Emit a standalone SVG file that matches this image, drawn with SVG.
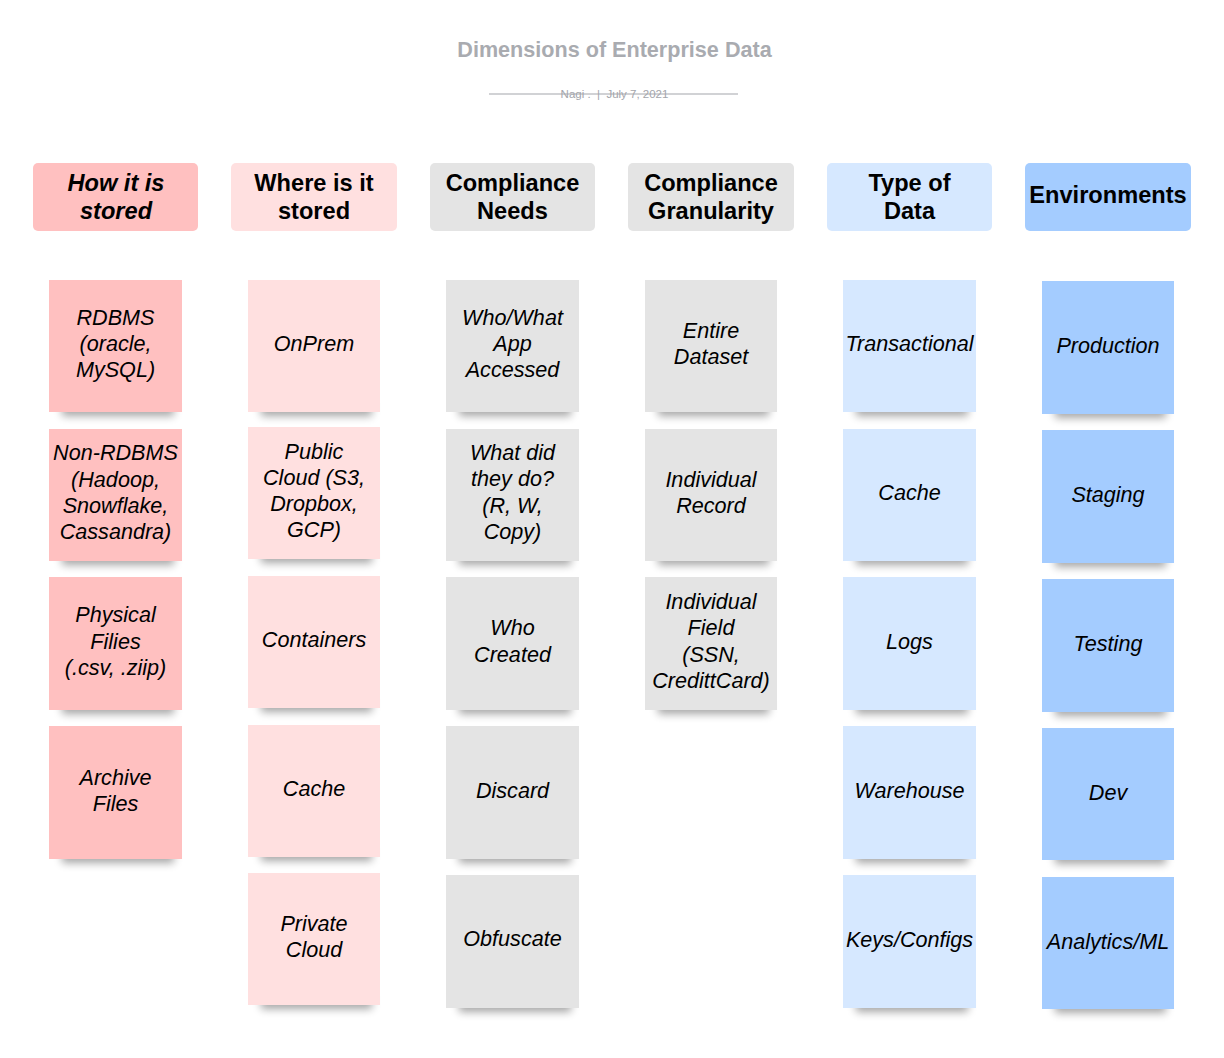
<svg xmlns="http://www.w3.org/2000/svg" width="1224" height="1058" viewBox="0 0 1224 1058">
<defs>
<filter id="sh" x="-20%" y="-100%" width="140%" height="300%"><feGaussianBlur stdDeviation="4"/></filter>
<style>
.title{font-family:"Liberation Sans",Arial,sans-serif;font-weight:bold;font-size:21.6px;fill:#a9abb0;text-anchor:middle}
.sub{font-family:"Liberation Sans",Arial,sans-serif;font-size:11.5px;fill:#a3a5ab;text-anchor:middle;white-space:pre}
.hd{font-family:"Liberation Sans",Arial,sans-serif;font-weight:bold;font-size:23.6px;fill:#000;text-anchor:middle}
.it{font-style:italic}
.nt{font-family:"Liberation Sans",Arial,sans-serif;font-style:italic;font-size:21.6px;fill:#000;text-anchor:middle}
.shd{fill:#000;opacity:0.35;filter:url(#sh)}
.c1{fill:#ffc0c0}.c2{fill:#ffe0e0}.c3{fill:#e4e4e4}.c5{fill:#d6e8ff}.c6{fill:#a4ccff}
</style>
</defs>
<rect width="1224" height="1058" fill="#fff"/>
<g id="title">
<text class="title" x="614.5" y="57">Dimensions of Enterprise Data</text>
<line x1="489" y1="94" x2="738" y2="94" stroke="#a3a5ab" stroke-width="1"/>
<text class="sub" x="614.5" y="98" xml:space="preserve">Nagi .  |  July 7, 2021</text>
</g>
<g id="headers">
<g id="h1"><rect class="c1" x="33" y="163" width="165" height="68" rx="5"/><text class="hd it" x="116" y="191">How it is</text><text class="hd it" x="116" y="219">stored</text></g>
<g id="h2"><rect class="c2" x="231" y="163" width="166" height="68" rx="5"/><text class="hd" x="314" y="191">Where is it</text><text class="hd" x="314" y="219">stored</text></g>
<g id="h3"><rect class="c3" x="430" y="163" width="165" height="68" rx="5"/><text class="hd" x="512.5" y="191">Compliance</text><text class="hd" x="512.5" y="219">Needs</text></g>
<g id="h4"><rect class="c3" x="628" y="163" width="166" height="68" rx="5"/><text class="hd" x="711" y="191">Compliance</text><text class="hd" x="711" y="219">Granularity</text></g>
<g id="h5"><rect class="c5" x="827" y="163" width="165" height="68" rx="5"/><text class="hd" x="909.5" y="191">Type of</text><text class="hd" x="909.5" y="219">Data</text></g>
<g id="h6"><rect class="c6" x="1025" y="163" width="166" height="68" rx="5"/><text class="hd" x="1108" y="203">Environments</text></g>
</g>
<g id="connectors"/>
<!-- Column 1 -->
<g id="n1a"><rect class="shd" x="62" y="402" width="112" height="14"/><rect class="c1" x="49" y="280" width="133" height="132"/><text class="nt" x="115.5" y="325">RDBMS</text><text class="nt" x="115.5" y="351">(oracle,</text><text class="nt" x="115.5" y="377">MySQL)</text></g>
<g id="n1b"><rect class="shd" x="62" y="551" width="112" height="14"/><rect class="c1" x="49" y="429" width="133" height="132"/><text class="nt" x="115.5" y="460">Non-RDBMS</text><text class="nt" x="115.5" y="487">(Hadoop,</text><text class="nt" x="115.5" y="513">Snowflake,</text><text class="nt" x="115.5" y="539">Cassandra)</text></g>
<g id="n1c"><rect class="shd" x="62" y="700" width="112" height="14"/><rect class="c1" x="49" y="577" width="133" height="133"/><text class="nt" x="115.5" y="622">Physical</text><text class="nt" x="115.5" y="649">Filies</text><text class="nt" x="115.5" y="675">(.csv, .ziip)</text></g>
<g id="n1d"><rect class="shd" x="62" y="849" width="112" height="14"/><rect class="c1" x="49" y="726" width="133" height="133"/><text class="nt" x="115.5" y="785">Archive</text><text class="nt" x="115.5" y="811">Files</text></g>
<!-- Column 2 -->
<g id="n2a"><rect class="shd" x="261" y="402" width="111" height="14"/><rect class="c2" x="248" y="280" width="132" height="132"/><text class="nt" x="314" y="351">OnPrem</text></g>
<g id="n2b"><rect class="shd" x="261" y="549" width="111" height="14"/><rect class="c2" x="248" y="427" width="132" height="132"/><text class="nt" x="314" y="459">Public</text><text class="nt" x="314" y="485">Cloud (S3,</text><text class="nt" x="314" y="511">Dropbox,</text><text class="nt" x="314" y="537">GCP)</text></g>
<g id="n2c"><rect class="shd" x="261" y="698" width="111" height="14"/><rect class="c2" x="248" y="576" width="132" height="132"/><text class="nt" x="314" y="647">Containers</text></g>
<g id="n2d"><rect class="shd" x="261" y="847" width="111" height="14"/><rect class="c2" x="248" y="725" width="132" height="132"/><text class="nt" x="314" y="796">Cache</text></g>
<g id="n2e"><rect class="shd" x="261" y="995" width="111" height="14"/><rect class="c2" x="248" y="873" width="132" height="132"/><text class="nt" x="314" y="931">Private</text><text class="nt" x="314" y="957">Cloud</text></g>
<!-- Column 3 -->
<g id="n3a"><rect class="shd" x="459" y="402" width="112" height="14"/><rect class="c3" x="446" y="280" width="133" height="132"/><text class="nt" x="512.5" y="325">Who/What</text><text class="nt" x="512.5" y="351">App</text><text class="nt" x="512.5" y="377">Accessed</text></g>
<g id="n3b"><rect class="shd" x="459" y="551" width="112" height="14"/><rect class="c3" x="446" y="429" width="133" height="132"/><text class="nt" x="512.5" y="460">What did</text><text class="nt" x="512.5" y="486">they do?</text><text class="nt" x="512.5" y="513">(R, W,</text><text class="nt" x="512.5" y="539">Copy)</text></g>
<g id="n3c"><rect class="shd" x="459" y="700" width="112" height="14"/><rect class="c3" x="446" y="577" width="133" height="133"/><text class="nt" x="512.5" y="635">Who</text><text class="nt" x="512.5" y="662">Created</text></g>
<g id="n3d"><rect class="shd" x="459" y="849" width="112" height="14"/><rect class="c3" x="446" y="726" width="133" height="133"/><text class="nt" x="512.5" y="798">Discard</text></g>
<g id="n3e"><rect class="shd" x="459" y="998" width="112" height="14"/><rect class="c3" x="446" y="875" width="133" height="133"/><text class="nt" x="512.5" y="946">Obfuscate</text></g>
<!-- Column 4 -->
<g id="n4a"><rect class="shd" x="658" y="402" width="111" height="14"/><rect class="c3" x="645" y="280" width="132" height="132"/><text class="nt" x="711" y="338">Entire</text><text class="nt" x="711" y="364">Dataset</text></g>
<g id="n4b"><rect class="shd" x="658" y="551" width="111" height="14"/><rect class="c3" x="645" y="429" width="132" height="132"/><text class="nt" x="711" y="487">Individual</text><text class="nt" x="711" y="513">Record</text></g>
<g id="n4c"><rect class="shd" x="658" y="700" width="111" height="14"/><rect class="c3" x="645" y="577" width="132" height="133"/><text class="nt" x="711" y="609">Individual</text><text class="nt" x="711" y="635">Field</text><text class="nt" x="711" y="662">(SSN,</text><text class="nt" x="711" y="688">CredittCard)</text></g>
<!-- Column 5 -->
<g id="n5a"><rect class="shd" x="856" y="402" width="112" height="14"/><rect class="c5" x="843" y="280" width="133" height="132"/><text class="nt" x="909.5" y="351">Transactional</text></g>
<g id="n5b"><rect class="shd" x="856" y="551" width="112" height="14"/><rect class="c5" x="843" y="429" width="133" height="132"/><text class="nt" x="909.5" y="500">Cache</text></g>
<g id="n5c"><rect class="shd" x="856" y="700" width="112" height="14"/><rect class="c5" x="843" y="577" width="133" height="133"/><text class="nt" x="909.5" y="649">Logs</text></g>
<g id="n5d"><rect class="shd" x="856" y="849" width="112" height="14"/><rect class="c5" x="843" y="726" width="133" height="133"/><text class="nt" x="909.5" y="798">Warehouse</text></g>
<g id="n5e"><rect class="shd" x="856" y="998" width="112" height="14"/><rect class="c5" x="843" y="875" width="133" height="133"/><text class="nt" x="909.5" y="947">Keys/Configs</text></g>
<!-- Column 6 -->
<g id="n6a"><rect class="shd" x="1055" y="404" width="111" height="14"/><rect class="c6" x="1042" y="281" width="132" height="133"/><text class="nt" x="1108" y="353">Production</text></g>
<g id="n6b"><rect class="shd" x="1055" y="553" width="111" height="14"/><rect class="c6" x="1042" y="430" width="132" height="133"/><text class="nt" x="1108" y="502">Staging</text></g>
<g id="n6c"><rect class="shd" x="1055" y="702" width="111" height="14"/><rect class="c6" x="1042" y="579" width="132" height="133"/><text class="nt" x="1108" y="651">Testing</text></g>
<g id="n6d"><rect class="shd" x="1055" y="850" width="111" height="14"/><rect class="c6" x="1042" y="728" width="132" height="132"/><text class="nt" x="1108" y="800">Dev</text></g>
<g id="n6e"><rect class="shd" x="1055" y="999" width="111" height="14"/><rect class="c6" x="1042" y="877" width="132" height="132"/><text class="nt" x="1108" y="949">Analytics/ML</text></g>
</svg>
